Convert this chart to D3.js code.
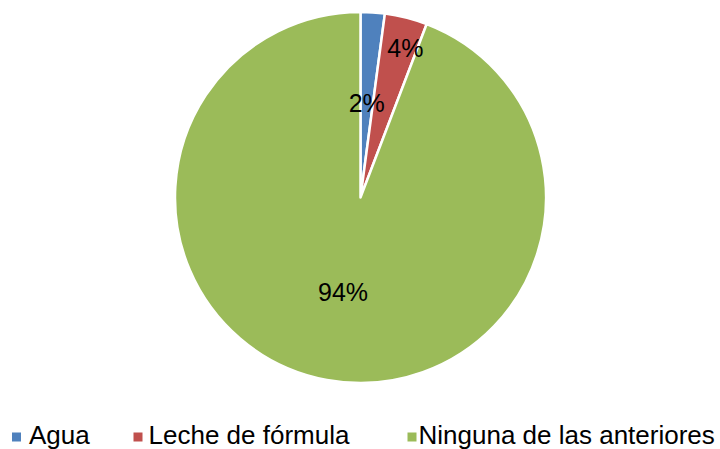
<!DOCTYPE html>
<html>
<head>
<meta charset="utf-8">
<script src="https://cdn.jsdelivr.net/npm/d3@7/dist/d3.min.js"></script>
<style>
  body { margin: 0; background: #fff; }
  text { font-family: "Liberation Sans", Arial, sans-serif; fill: #000; }
</style>
</head>
<body>
<div id="chart"></div>
<script>
// data
var categories = ["Agua", "Leche de fórmula", "Ninguna de las anteriores"];
var values = [2.1, 3.7, 94.2];
var labels = ["2%", "4%", "94%"];
var colors = ["#4F81BD", "#C0504D", "#9BBB59"];

var W = 720, H = 449;
var cx = 360.5, cy = 197.5, R = 185.5;
// label distance from centre (share of radius) and small angle nudge (degrees)
var labelPos = [0.51, 0.84, 0.52];
var labelNudge = [0, 2.5, 0];

var svg = d3.select("#chart").append("svg")
    .attr("width", W).attr("height", H);

var g = svg.append("g")
    .attr("transform", "translate(" + cx + "," + cy + ")");

var pie = d3.pie().sort(null).value(function(d){ return d; });
var arcs = pie(values);
var arc = d3.arc().innerRadius(0).outerRadius(R);

g.selectAll("path").data(arcs).enter().append("path")
    .attr("d", arc)
    .attr("fill", function(d, i){ return colors[i]; })
    .attr("stroke", "#fff")
    .attr("stroke-width", 2.5)
    .attr("stroke-linejoin", "round");

g.selectAll("text.lbl").data(arcs).enter().append("text")
    .attr("class", "lbl")
    .attr("transform", function(d, i){
        var r = R * labelPos[i];
        var a = (d.startAngle + d.endAngle) / 2 + labelNudge[i] * Math.PI / 180;
        return "translate(" + (r * Math.sin(a)) + "," + (-r * Math.cos(a)) + ")";
    })
    .attr("text-anchor", "middle")
    .attr("dy", "0.35em")
    .style("font-size", "25px")
    .text(function(d, i){ return labels[i]; });

// legend
var legX = [12, 133.5, 407.5];
var leg = svg.append("g").attr("transform", "translate(0,444)");
var item = leg.selectAll("g").data(categories).enter().append("g")
    .attr("transform", function(d, i){ return "translate(" + legX[i] + ",0)"; });
item.append("rect")
    .attr("x", 0).attr("y", -11.5)
    .attr("width", 9).attr("height", 9)
    .attr("fill", function(d, i){ return colors[i]; });
item.append("text")
    .attr("x", function(d, i){ return i == 0 ? 17 : (i == 1 ? 15 : 11); })
    .attr("y", 0)
    .style("font-size", "26px")
    .text(function(d){ return d; });
</script>
</body>
</html>
